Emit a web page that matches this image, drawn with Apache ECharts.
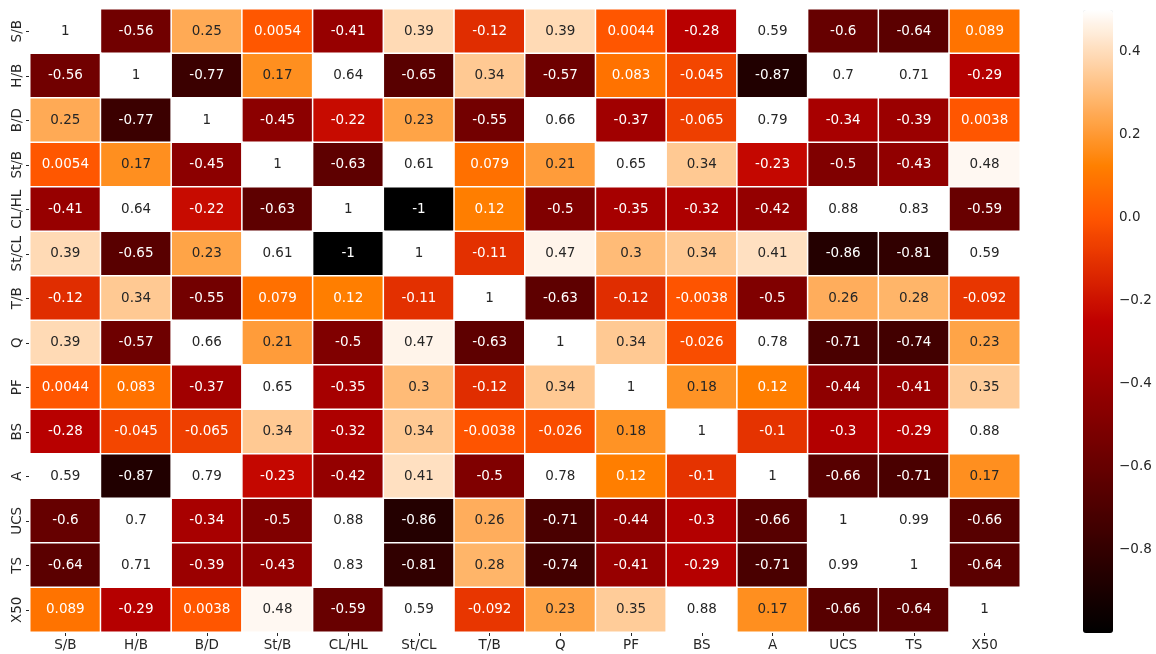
<!DOCTYPE html>
<html>
<head>
<meta charset="utf-8">
<script src="https://cdn.jsdelivr.net/npm/echarts@6/dist/echarts.min.js"></script>
<style>
  html, body { margin: 0; padding: 0; background: #fff; }
  #chart { width: 1156px; height: 654px; }
</style>
</head>
<body>
<div id="chart"></div>
<script>
// Variable names (rows top to bottom, columns left to right)
const labels = ['S/B', 'H/B', 'B/D', 'St/B', 'CL/HL', 'St/CL', 'T/B', 'Q', 'PF', 'BS', 'A', 'UCS', 'TS', 'X50'];

// Correlation coefficients, one array per row
const rowSB   = [1, -0.56, 0.25, 0.0054, -0.41, 0.39, -0.12, 0.39, 0.0044, -0.28, 0.59, -0.6, -0.64, 0.089];
const rowHB   = [-0.56, 1, -0.77, 0.17, 0.64, -0.65, 0.34, -0.57, 0.083, -0.045, -0.87, 0.7, 0.71, -0.29];
const rowBD   = [0.25, -0.77, 1, -0.45, -0.22, 0.23, -0.55, 0.66, -0.37, -0.065, 0.79, -0.34, -0.39, 0.0038];
const rowStB  = [0.0054, 0.17, -0.45, 1, -0.63, 0.61, 0.079, 0.21, 0.65, 0.34, -0.23, -0.5, -0.43, 0.48];
const rowCLHL = [-0.41, 0.64, -0.22, -0.63, 1, -1, 0.12, -0.5, -0.35, -0.32, -0.42, 0.88, 0.83, -0.59];
const rowStCL = [0.39, -0.65, 0.23, 0.61, -1, 1, -0.11, 0.47, 0.3, 0.34, 0.41, -0.86, -0.81, 0.59];
const rowTB   = [-0.12, 0.34, -0.55, 0.079, 0.12, -0.11, 1, -0.63, -0.12, -0.0038, -0.5, 0.26, 0.28, -0.092];
const rowQ    = [0.39, -0.57, 0.66, 0.21, -0.5, 0.47, -0.63, 1, 0.34, -0.026, 0.78, -0.71, -0.74, 0.23];
const rowPF   = [0.0044, 0.083, -0.37, 0.65, -0.35, 0.3, -0.12, 0.34, 1, 0.18, 0.12, -0.44, -0.41, 0.35];
const rowBS   = [-0.28, -0.045, -0.065, 0.34, -0.32, 0.34, -0.0038, -0.026, 0.18, 1, -0.1, -0.3, -0.29, 0.88];
const rowA    = [0.59, -0.87, 0.79, -0.23, -0.42, 0.41, -0.5, 0.78, 0.12, -0.1, 1, -0.66, -0.71, 0.17];
const rowUCS  = [-0.6, 0.7, -0.34, -0.5, 0.88, -0.86, 0.26, -0.71, -0.44, -0.3, -0.66, 1, 0.99, -0.66];
const rowTS   = [-0.64, 0.71, -0.39, -0.43, 0.83, -0.81, 0.28, -0.74, -0.41, -0.29, -0.71, 0.99, 1, -0.64];
const rowX50  = [0.089, -0.29, 0.0038, 0.48, -0.59, 0.59, -0.092, 0.23, 0.35, 0.88, 0.17, -0.66, -0.64, 1];

const matrix = [rowSB, rowHB, rowBD, rowStB, rowCLHL, rowStCL, rowTB, rowQ, rowPF, rowBS, rowA, rowUCS, rowTS, rowX50];

// Colour scale limits and colour-bar tick values
const vmin = -1;
const vmax = 0.5;
const barTicks = [-0.8, -0.6, -0.4, -0.2, 0.0, 0.2, 0.4];

// "gist_heat" style colormap: t in [0,1] -> [r,g,b] in [0,1]
function heat(t) {
  const c = x => Math.max(0, Math.min(1, x));
  return [c(1.5 * t), c(2 * t - 1), c(4 * t - 3)];
}
function toHex(rgb) {
  return '#' + rgb.map(v => Math.round(v * 255).toString(16).padStart(2, '0')).join('');
}
const stops = [];
for (let i = 0; i <= 120; i++) stops.push(toHex(heat(i / 120)));

// Light text on dark cells, dark text on light cells (relative luminance)
function textColor(v) {
  const t = Math.max(0, Math.min(1, (v - vmin) / (vmax - vmin)));
  const lin = heat(t).map(x => x <= 0.03928 ? x / 12.92 : Math.pow((x + 0.055) / 1.055, 2.4));
  const lum = 0.2126 * lin[0] + 0.7152 * lin[1] + 0.0722 * lin[2];
  return lum > 0.408 ? '#262626' : '#ffffff';
}

const cells = [];
matrix.forEach((row, r) => {
  row.forEach((v, c) => {
    cells.push({ value: [c, r, v], label: { color: textColor(v) } });
  });
});

const FONT = 'DejaVu Sans';
const chart = echarts.init(document.getElementById('chart'), null, { renderer: 'canvas' });

chart.setOption({
  animation: false,
  backgroundColor: '#ffffff',
  textStyle: { fontFamily: FONT },
  grid: [
    { left: 30, top: 9, width: 990, height: 623 },
    { left: 1083, top: 10, width: 30, height: 623 }
  ],
  xAxis: [
    {
      type: 'category', gridIndex: 0, data: labels, position: 'bottom',
      axisLine: { show: false },
      axisTick: { show: true, length: 4, interval: 0, alignWithLabel: true, lineStyle: { color: '#262626', width: 1 } },
      axisLabel: { color: '#262626', fontSize: 13.5, fontFamily: FONT, margin: 6, interval: 0 },
      splitLine: { show: false }
    },
    { type: 'value', gridIndex: 1, show: false, min: 0, max: 1 }
  ],
  yAxis: [
    {
      type: 'category', gridIndex: 0, data: labels, inverse: true,
      axisLine: { show: false },
      axisTick: { show: true, length: 4, interval: 0, alignWithLabel: true, lineStyle: { color: '#262626', width: 1 } },
      axisLabel: { color: '#262626', fontSize: 13.5, fontFamily: FONT, rotate: 90, margin: 6, interval: 0 },
      splitLine: { show: false }
    },
    {
      type: 'value', gridIndex: 1, position: 'right', min: vmin, max: vmax,
      axisLine: { show: false },
      axisTick: { show: true, length: 4, customValues: barTicks, lineStyle: { color: '#262626', width: 1 } },
      axisLabel: {
        show: true, customValues: barTicks, color: '#262626', fontSize: 13.5, fontFamily: FONT, margin: 6,
        formatter: v => v.toFixed(1).replace('-', '\u2212')
      },
      splitLine: { show: false }
    }
  ],
  visualMap: {
    type: 'continuous',
    seriesIndex: 0,
    min: vmin,
    max: vmax,
    calculable: false,
    show: true,
    padding: 0,
    left: 1083,
    top: 10,
    itemWidth: 30,
    itemHeight: 623,
    text: null,
    showLabel: false,
    hoverLink: false,
    inRange: { color: stops }
  },
  series: [
    {
      type: 'heatmap',
      xAxisIndex: 0,
      yAxisIndex: 0,
      data: cells,
      itemStyle: { borderColor: '#ffffff', borderWidth: 1.5 },
      label: {
        show: true,
        fontSize: 13.5,
        fontFamily: FONT,
        formatter: p => String(p.value[2])
      },
      emphasis: { disabled: true }
    }
  ]
});
</script>
</body>
</html>
